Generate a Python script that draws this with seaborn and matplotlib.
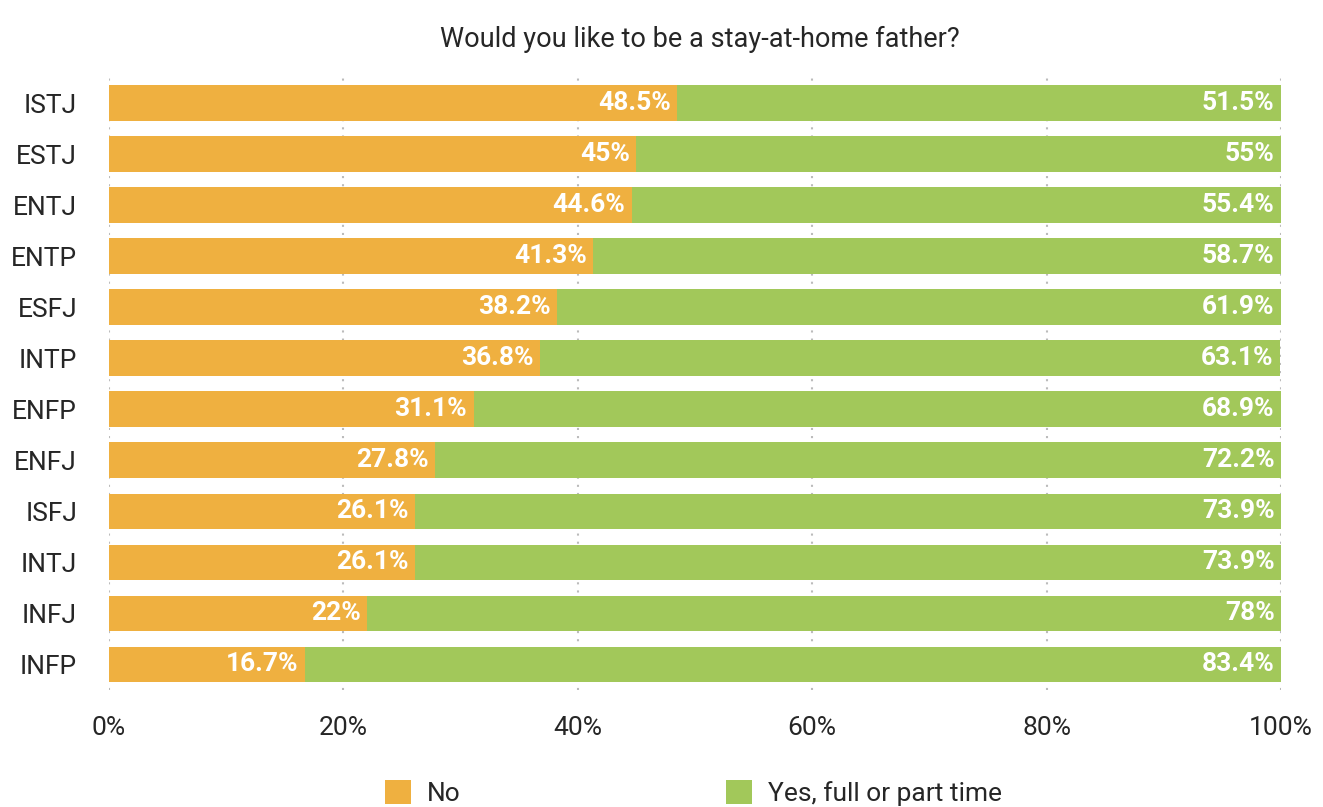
import matplotlib
matplotlib.use("Agg")
import matplotlib.pyplot as plt
import seaborn as sns
import pandas as pd
from matplotlib.patches import Patch

types = ["ISTJ", "ESTJ", "ENTJ", "ENTP", "ESFJ", "INTP", "ENFP", "ENFJ", "ISFJ", "INTJ", "INFJ", "INFP"]
no_vals = [48.5, 45, 44.6, 41.3, 38.2, 36.8, 31.1, 27.8, 26.1, 26.1, 22, 16.7]
yes_vals = [51.5, 55, 55.4, 58.7, 61.9, 63.1, 68.9, 72.2, 73.9, 73.9, 78, 83.4]
series_names = ["No", "Yes, full or part time"]
colors = ["#EFB040", "#A2C85A"]
title = "Would you like to be a stay-at-home father?"

sns.set_theme(style="white")
plt.rcParams["font.family"] = ["Roboto", "DejaVu Sans"]

df = pd.DataFrame({"type": types, "no": no_vals, "yes": yes_vals})
df["total"] = df["no"] + df["yes"]

fig = plt.figure(figsize=(13.23, 8.07), dpi=100)
ax = fig.add_axes([0.0824, 0.145, 0.8859, 0.762])

sns.barplot(data=df, y="type", x="total", color=colors[1], saturation=1, width=0.7,
            ax=ax, orient="h", linewidth=0)
sns.barplot(data=df, y="type", x="no", color=colors[0], saturation=1, width=0.7,
            ax=ax, orient="h", linewidth=0)

def fmt(v):
    s = f"{v:.1f}"
    if s.endswith(".0"):
        s = s[:-2]
    return s + "%"

for i, row in df.iterrows():
    ax.text(row["no"] - 0.55, i, fmt(row["no"]), ha="right", va="center",
            color="white", fontsize=19, fontweight="bold")
    ax.text(min(row["total"], 100) - 0.55, i, fmt(row["yes"]), ha="right", va="center",
            color="white", fontsize=19, fontweight="bold")

ax.set_xlim(0, 100)
ax.set_ylim(11.5, -0.55)
ax.set_xticks([0, 20, 40, 60, 80, 100])
ax.set_xticklabels([f"{t}%" for t in [0, 20, 40, 60, 80, 100]], fontsize=19)
ax.tick_params(axis="y", labelsize=19, length=0, pad=23)
ax.tick_params(axis="x", length=0, pad=19)
ax.set_xlabel("")
ax.set_ylabel("")
ax.grid(axis="x", color="#BBBBBB", linestyle=(0, (1, 2.9)), linewidth=1.5)
ax.set_axisbelow(True)
for sp in ax.spines.values():
    sp.set_visible(False)

fig.suptitle(title, fontsize=19.5, y=0.968, x=0.529)

handles = [Patch(facecolor=c, edgecolor="none") for c in colors]
fig.legend(handles, series_names, loc="center", bbox_to_anchor=(0.524, 0.017), ncol=2,
           frameon=False, fontsize=19, handlelength=1.0, handleheight=1.0,
           columnspacing=10.05, handletextpad=0.6)

fig.savefig("out.png", dpi=100)
